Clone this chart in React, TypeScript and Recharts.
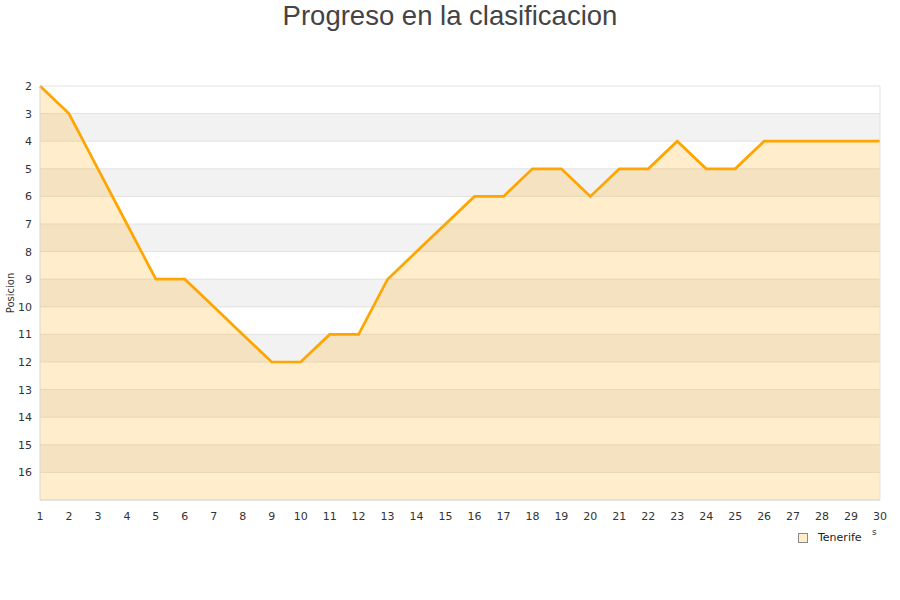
import React from "react";
import {
  ComposedChart,
  Area,
  XAxis,
  YAxis,
  CartesianGrid,
  ReferenceLine,
} from "recharts";

const jornadas = [
  1, 2, 3, 4, 5, 6, 7, 8, 9, 10, 11, 12, 13, 14, 15, 16, 17, 18, 19, 20, 21,
  22, 23, 24, 25, 26, 27, 28, 29, 30,
];
const posiciones = [
  2, 3, 5, 7, 9, 9, 10, 11, 12, 12, 11, 11, 9, 8, 7, 6, 6, 5, 5, 6, 5, 5, 4,
  5, 5, 4, 4, 4, 4, 4,
];
const yTicks = [2, 3, 4, 5, 6, 7, 8, 9, 10, 11, 12, 13, 14, 15, 16];
const seriesName = "Tenerife";
const title = "Progreso en la clasificacion";
const yLabel = "Posicion";

const data = jornadas.map((j, i) => ({ jornada: j, pos: posiciones[i] }));

const font = "'DejaVu Sans', sans-serif";

export default function App() {
  return (
    <div
      style={{
        position: "absolute",
        left: 0,
        top: 0,
        width: 900,
        height: 600,
        background: "#fff",
        fontFamily: font,
      }}
    >
      <div
        style={{
          position: "absolute",
          top: 0,
          left: 0,
          width: 900,
          textAlign: "center",
          fontFamily: "'Liberation Sans', Arial, sans-serif",
          fontSize: 27.5,
          color: "#444",
          lineHeight: "32px",
        }}
      >
        {title}
      </div>
      <div style={{ position: "absolute", left: 0, top: 0 }}>
        <ComposedChart
          width={900}
          height={600}
          data={data}
          margin={{ top: 86, right: 20, bottom: 70, left: 0 }}
        >
          <CartesianGrid
            vertical={false}
            stroke="#e2e2e2"
            horizontalFill={["#ffffff", "#f2f2f2"]}
            fillOpacity={1}
          />
          <XAxis
            dataKey="jornada"
            type="number"
            domain={[1, 30]}
            ticks={jornadas}
            interval={0}
            tickLine={false}
            axisLine={{ stroke: "#d8d8d8" }}
            height={30}
            tick={{ fontSize: 11, fill: "#333", fontFamily: font }}
            tickMargin={6}
          />
          <YAxis
            type="number"
            domain={[2, 17]}
            reversed
            ticks={yTicks}
            interval={0}
            tickLine={false}
            axisLine={{ stroke: "#d8d8d8" }}
            width={40}
            tick={{ fontSize: 11, fill: "#333", fontFamily: font }}
            tickMargin={2}
          />
          <Area
            type="linear"
            dataKey="pos"
            name={seriesName}
            stroke="#FFA500"
            strokeWidth={2.7}
            fill="#FFA500"
            fillOpacity={0.2}
            baseValue={17}
            dot={false}
            activeDot={false}
            isAnimationActive={false}
          />
          <ReferenceLine x={30} stroke="#e2e2e2" />
        </ComposedChart>
      </div>
      <svg
        width={900}
        height={600}
        style={{ position: "absolute", left: 0, top: 0, pointerEvents: "none" }}
      >
        <text
          x={14}
          y={293}
          transform="rotate(-90 14 293)"
          textAnchor="middle"
          fontSize={10}
          fill="#333"
          fontFamily={font}
        >
          {yLabel}
        </text>
        <text x={872} y={535} fontSize={9} fill="#333" fontFamily={font}>
          s
        </text>
      </svg>
      <div
        style={{
          position: "absolute",
          left: 798,
          top: 531,
          display: "flex",
          alignItems: "center",
          fontSize: 11,
          color: "#222",
        }}
      >
        <span
          style={{
            display: "inline-block",
            width: 8,
            height: 8,
            background: "#ffedcc",
            border: "1px solid #888",
            marginRight: 10,
          }}
        />
        {seriesName}
      </div>
    </div>
  );
}
